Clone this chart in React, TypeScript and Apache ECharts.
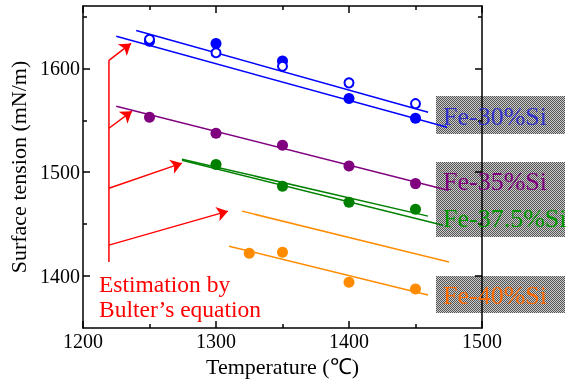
import React, { useEffect, useRef } from "react";
import * as echarts from "echarts";

const F = '"Liberation Serif", "Times New Roman", serif';

// axis ticks
const yMajor = [1400, 1500, 1600];
const yMinor = [1450, 1550, 1650];

// Fe-30%Si
const fe30Filled = [[1250, 1626], [1300, 1624], [1350, 1607], [1400, 1571], [1450, 1552]];
const fe30Open = [[1250, 1628], [1300, 1615], [1350, 1602], [1400, 1586], [1450, 1566]];
const fe30FitOpen = [[1240, 1636.5], [1459.5, 1557.7]];
const fe30FitFilled = [[1225, 1630.8], [1473.7, 1543.3]];

// Fe-35%Si
const fe35Pts = [[1250, 1553], [1300, 1537.5], [1350, 1526], [1400, 1506], [1450, 1489]];
const fe35Fit = [[1225, 1563.5], [1474.4, 1482.7]];

// Fe-37.5%Si
const fe375Pts = [[1300, 1507.5], [1350, 1486.5], [1400, 1471], [1450, 1464.4]];
const fe375FitA = [[1274.4, 1512.5], [1459.4, 1457.7]];
const fe375FitB = [[1274.4, 1511.5], [1470.7, 1449]];

// Fe-40%Si
const fe40Pts = [[1325, 1422], [1350, 1423], [1400, 1394], [1450, 1387.5]];
const fe40Est = [[1319.5, 1462.5], [1475.2, 1413.5]];
const fe40Fit = [[1309.8, 1428.8], [1459.4, 1381.7]];

// Estimation arrows
const arrowStem = [[1219.5, 1607.7], [1219.5, 1413.5]];
const arrows = [
  [[1219.5, 1607.7], [1236.1, 1624]],
  [[1219.5, 1542.3], [1236.8, 1558.7]],
  [[1219.5, 1484.6], [1274.4, 1508.7]],
  [[1219.5, 1429.8], [1309, 1462.5]],
];

export default function App() {
  const ref = useRef<HTMLDivElement>(null);
  useEffect(() => {
    const chart = echarts.init(ref.current!, null, { renderer: "svg" });
    const cv = document.createElement("canvas");
    cv.width = 2;
    cv.height = 2;
    const ctx = cv.getContext("2d")!;
    ctx.fillStyle = "#cacaca";
    ctx.fillRect(0, 0, 2, 2);
    ctx.fillStyle = "#555555";
    ctx.fillRect(0, 0, 1, 1);
    ctx.fillRect(1, 1, 1, 1);
    const pattern: any = { image: cv, repeat: "repeat" };

    const black = { color: "#000", width: 1.5 };
    const fmt = (v: number) => String(v);
    const xBase = (pos: string, labels: boolean) => ({
      type: "value",
      min: 1200,
      max: 1500,
      interval: 100,
      position: pos,
      z: 10,
      axisLine: { show: true, lineStyle: black },
      axisTick: { show: true, inside: true, length: 7, lineStyle: black },
      minorTick: { show: true, splitNumber: 2, length: 4, lineStyle: black },
      axisLabel: { show: labels, formatter: fmt, fontSize: 20, color: "#000", fontFamily: F, margin: 3 },
      splitLine: { show: false },
      minorSplitLine: { show: false },
    });
    const yBase = (pos: string, vals: number[], len: number, line: boolean, labels: boolean) => ({
      type: "value",
      min: 1350,
      max: 1660,
      position: pos,
      z: 10,
      axisLine: { show: line, lineStyle: black },
      axisTick: { show: true, inside: true, length: len, customValues: vals, lineStyle: black },
      axisLabel: { show: labels, customValues: vals, formatter: fmt, fontSize: 20, color: "#000", fontFamily: F, margin: 3 },
      splitLine: { show: false },
    });

    const lineSeries = (data: number[][], color: string) => ({
      type: "line",
      data,
      showSymbol: false,
      symbol: "none",
      lineStyle: { color, width: 1.5 },
      z: 3,
    });
    const scatter = (data: number[][], color: string) => ({
      type: "scatter",
      data,
      symbol: "circle",
      symbolSize: 11,
      itemStyle: { color, opacity: 1 },
      z: 4,
    });

    chart.setOption({
      animation: false,
      grid: { left: 83, right: 85, top: 6, bottom: 52, outerBoundsMode: "none", containLabel: false },
      xAxis: [
        {
          ...xBase("bottom", true),
          name: "Temperature (℃)",
          nameLocation: "middle",
          nameGap: 27,
          nameTextStyle: { fontSize: 22, fontFamily: F, color: "#000" },
        },
        xBase("top", false),
      ],
      yAxis: [
        {
          ...yBase("left", yMajor, 7, true, true),
          name: "Surface tension (mN/m)",
          nameLocation: "middle",
          nameRotate: 90,
          nameGap: 52,
          nameTextStyle: { fontSize: 22, fontFamily: F, color: "#000" },
        },
        yBase("left", yMinor, 4, false, false),
        yBase("right", yMajor, 7, true, false),
        yBase("right", yMinor, 4, false, false),
      ],
      series: [
        lineSeries(fe30FitOpen, "#0000ff"),
        lineSeries(fe30FitFilled, "#0000ff"),
        scatter(fe30Filled, "#0000ff"),
        {
          type: "scatter",
          data: fe30Open,
          symbol: "circle",
          symbolSize: 9,
          itemStyle: { color: "#fff", borderColor: "#0000ff", borderWidth: 2, opacity: 1 },
          z: 5,
        },
        lineSeries(fe35Fit, "#800080"),
        scatter(fe35Pts, "#800080"),
        lineSeries(fe375FitA, "#008000"),
        lineSeries(fe375FitB, "#008000"),
        scatter(fe375Pts, "#008000"),
        lineSeries(fe40Est, "#ff8c00"),
        lineSeries(fe40Fit, "#ff8c00"),
        scatter(fe40Pts, "#ff8c00"),
        lineSeries(arrowStem, "#ff0000"),
        {
          type: "lines",
          coordinateSystem: "cartesian2d",
          data: arrows.map((c) => ({ coords: c })),
          symbol: ["none", "arrow"],
          symbolSize: 11,
          lineStyle: { color: "#ff0000", width: 1.5, opacity: 1 },
          z: 3,
        },
      ],
      graphic: [
        { type: "rect", shape: { x: 436, y: 96, width: 129, height: 38 }, style: { fill: pattern }, z: -1 },
        { type: "rect", shape: { x: 436, y: 162, width: 129, height: 75 }, style: { fill: pattern }, z: -1 },
        { type: "rect", shape: { x: 436, y: 276, width: 129, height: 37 }, style: { fill: pattern }, z: -1 },
        { type: "text", x: 443, y: 116, z: 100, style: { text: "Fe-30%Si", fill: "#3333cc", fontSize: 26, fontFamily: F, verticalAlign: "middle" } },
        { type: "text", x: 443, y: 181, z: 100, style: { text: "Fe-35%Si", fill: "#800080", fontSize: 26, fontFamily: F, verticalAlign: "middle" } },
        { type: "text", x: 443, y: 218, z: 100, style: { text: "Fe-37.5%Si", fill: "#009900", fontSize: 26, fontFamily: F, verticalAlign: "middle" } },
        { type: "text", x: 443, y: 295, z: 100, style: { text: "Fe-40%Si", fill: "#ff6a00", fontSize: 26, fontFamily: F, verticalAlign: "middle" } },
        { type: "text", x: 99, y: 284, z: 100, style: { text: "Estimation by", fill: "#ff0000", fontSize: 23.5, fontFamily: F, verticalAlign: "middle" } },
        { type: "text", x: 99, y: 309, z: 100, style: { text: "Bulter’s equation", fill: "#ff0000", fontSize: 23.5, fontFamily: F, verticalAlign: "middle" } },
      ],
    });
    return () => chart.dispose();
  }, []);
  return <div ref={ref} style={{ position: "fixed", left: 0, top: 0, width: 567, height: 380 }} />;
}
